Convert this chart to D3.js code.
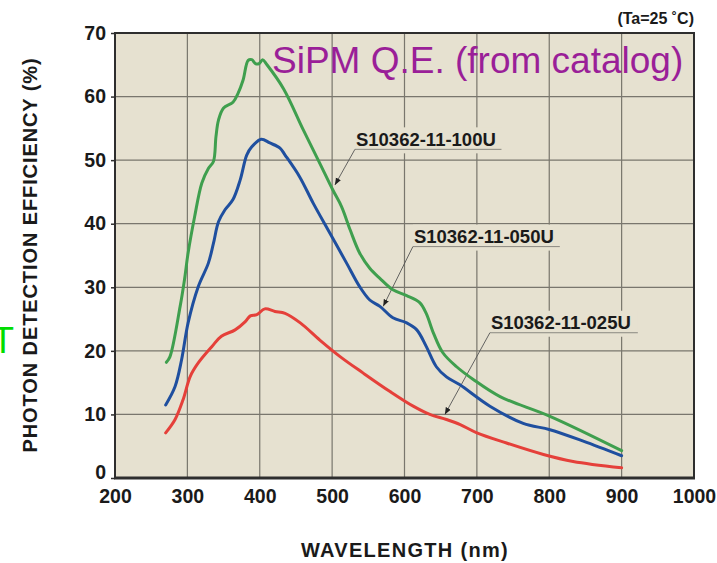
<!DOCTYPE html>
<html>
<head>
<meta charset="utf-8">
<script src="https://cdn.jsdelivr.net/npm/d3@7"></script>
<style>
  body { margin: 0; background: #fff; }
  svg text { font-family: "Liberation Sans", Arial, sans-serif; }
</style>
</head>
<body>
<svg id="chart"></svg>
<script>
// Wavelength (nm) / photon detection efficiency (%)
const wl100 = [271, 276, 290, 296, 301, 310, 320, 329, 336, 339.5, 343, 350, 363, 370, 377, 384, 389, 394, 399, 404, 410, 433, 460, 483, 501, 513, 525, 538, 552, 566, 584, 603, 621, 630, 640, 653, 672, 695, 732, 801, 900];
const pde100 = [18.2, 19.1, 27.0, 31.2, 35.4, 41.1, 46.4, 48.7, 49.8, 53.7, 56.3, 58.2, 59.1, 60.5, 62.6, 65.7, 65.8, 65.2, 65.2, 65.8, 65.0, 61.2, 54.8, 49.5, 45.3, 42.7, 39.0, 35.4, 33.0, 31.4, 29.6, 28.7, 27.6, 25.9, 22.8, 19.7, 17.5, 15.5, 12.8, 9.7, 4.3];

const wl050 = [270, 283, 292, 301, 315, 329, 336, 343, 352, 363, 373, 382, 389, 402, 414, 428, 435, 455, 474, 497, 520, 538, 552, 566, 584, 603, 617, 630, 644, 658, 676, 718, 764, 801, 847, 900];
const pde050 = [11.5, 14.4, 18.6, 24.4, 30.1, 33.8, 36.9, 40.3, 42.2, 43.8, 46.9, 50.8, 52.1, 53.3, 52.7, 51.9, 50.8, 47.4, 43.2, 38.5, 33.8, 30.1, 28.0, 27.0, 25.2, 24.4, 23.3, 20.7, 17.5, 15.9, 14.7, 11.3, 8.6, 7.6, 5.8, 3.5];

const wl025 = [270, 283, 294, 304, 315, 334, 347, 366, 380, 387, 396, 407, 421, 435, 456, 483, 511, 543, 580, 612, 635, 658, 677, 700, 741, 792, 833, 900];
const pde025 = [7.1, 9.2, 12.3, 16.0, 18.1, 20.7, 22.3, 23.3, 24.6, 25.5, 25.7, 26.6, 26.2, 25.9, 24.4, 21.7, 19.1, 16.5, 13.6, 11.3, 10.0, 9.2, 8.4, 7.1, 5.5, 3.7, 2.6, 1.6];

const seriesNames = ["S10362-11-100U", "S10362-11-050U", "S10362-11-025U"];
// label leader: underline start/end (nm), underline level (%), arrow target (nm, %)
const labelStart = [531.5, 611.6, 718];
const labelEnd = [734, 814.6, 922.4];
const labelLevel = [51.7, 36.4, 22.85];
const targetWl = [503.9, 570.6, 655.8];
const targetPde = [46.1, 27.0, 10.0];

const xTicks = [200, 300, 400, 500, 600, 700, 800, 900, 1000];
const yTicks = [0, 10, 20, 30, 40, 50, 60, 70];

const width = 717;
const height = 563;
const plot = { left: 115, right: 694, top: 33, bottom: 478 };
const colors = ["#3f9f4e", "#1f4f9f", "#e5403a"];
const plotBg = "#e6e1d0";
const ink = "#1a1a1a";

const svg = d3.select("#chart").attr("width", width).attr("height", height);

const x = d3.scaleLinear().domain([200, 1000]).range([plot.left, plot.right]);
const y = d3.scaleLinear().domain([0, 70]).range([plot.bottom, plot.top]);

// Plot background
svg.append("rect")
  .attr("x", plot.left).attr("y", plot.top)
  .attr("width", plot.right - plot.left).attr("height", plot.bottom - plot.top)
  .attr("fill", plotBg);

// Grid
const grid = svg.append("g").attr("stroke", "#66645c").attr("stroke-width", 1.2).attr("opacity", 0.85);
grid.selectAll(".vgrid")
  .data(xTicks.slice(1, -1))
  .enter().append("line")
  .attr("x1", (d) => x(d)).attr("x2", (d) => x(d))
  .attr("y1", plot.top).attr("y2", plot.bottom);
grid.selectAll(".hgrid")
  .data(yTicks.slice(1, -1))
  .enter().append("line")
  .attr("x1", plot.left).attr("x2", plot.right)
  .attr("y1", (d) => y(d)).attr("y2", (d) => y(d));

// Label backgrounds mask the grid behind the labels
const labelG = svg.append("g");
seriesNames.forEach((name, i) => {
  labelG.append("rect")
    .attr("x", x(labelStart[i]))
    .attr("y", y(labelLevel[i]) - 22)
    .attr("width", x(labelEnd[i]) - x(labelStart[i]))
    .attr("height", 26)
    .attr("fill", plotBg);
});

// Curves
const line = d3.line()
  .x((d) => x(d[0]))
  .y((d) => y(d[1]))
  .curve(d3.curveCatmullRom.alpha(0.5));

const series = [
  d3.zip(wl100, pde100),
  d3.zip(wl050, pde050),
  d3.zip(wl025, pde025)
];

svg.append("g")
  .selectAll("path")
  .data(series)
  .enter().append("path")
  .attr("d", line)
  .attr("fill", "none")
  .attr("stroke", (d, i) => colors[i])
  .attr("stroke-width", 3)
  .attr("stroke-linejoin", "round")
  .attr("stroke-linecap", "round");

// Annotations
svg.append("defs").append("marker")
  .attr("id", "arrow")
  .attr("viewBox", "0 0 10 10")
  .attr("refX", 10).attr("refY", 5)
  .attr("markerWidth", 7).attr("markerHeight", 7)
  .attr("markerUnits", "userSpaceOnUse")
  .attr("orient", "auto")
  .append("path")
  .attr("d", "M0,1 L10,5 L0,9 z")
  .attr("fill", "#222");

seriesNames.forEach((name, i) => {
  const ux = x(labelStart[i]);
  const uy = y(labelLevel[i]);
  labelG.append("line")
    .attr("x1", ux).attr("x2", x(labelEnd[i]))
    .attr("y1", uy).attr("y2", uy)
    .attr("stroke", "#8a8880").attr("stroke-width", 1);
  labelG.append("line")
    .attr("x1", ux).attr("y1", uy)
    .attr("x2", x(targetWl[i])).attr("y2", y(targetPde[i]))
    .attr("stroke", "#555").attr("stroke-width", 0.9)
    .attr("marker-end", "url(#arrow)");
  labelG.append("text")
    .attr("x", ux + 1).attr("y", uy - 3.5)
    .attr("font-size", 18.5).attr("font-weight", "bold")
    .attr("fill", ink)
    .text(name);
});

// Frame
svg.append("rect")
  .attr("x", plot.left).attr("y", plot.top)
  .attr("width", plot.right - plot.left).attr("height", plot.bottom - plot.top)
  .attr("fill", "none").attr("stroke", "#2e2e2e").attr("stroke-width", 2);
svg.append("line")
  .attr("x1", plot.left - 1).attr("x2", plot.right + 1)
  .attr("y1", plot.bottom).attr("y2", plot.bottom)
  .attr("stroke", "#2e2e2e").attr("stroke-width", 3);

// Axes
const xAxis = d3.axisBottom(x).tickValues(xTicks).tickFormat(d3.format("d")).tickSize(0).tickPadding(11);
svg.append("g")
  .attr("transform", `translate(0,${plot.bottom})`)
  .call(xAxis)
  .call((g) => g.select(".domain").remove())
  .call((g) => g.selectAll("text")
    .attr("font-size", 19.5).attr("font-weight", "bold")
    .attr("fill", ink)
    .style("font-family", "'Liberation Sans', Arial, sans-serif"));

const yAxis = d3.axisLeft(y).tickValues(yTicks).tickFormat(d3.format("d")).tickSize(4).tickPadding(5);
svg.append("g")
  .attr("transform", `translate(${plot.left},0)`)
  .call(yAxis)
  .call((g) => g.select(".domain").remove())
  .call((g) => g.selectAll("line").attr("stroke", "#2e2e2e").attr("stroke-width", 1.5))
  .call((g) => g.selectAll("text")
    .attr("font-size", 19.5).attr("font-weight", "bold")
    .attr("fill", ink)
    .attr("dy", (d) => (d === 0 ? "0.05em" : "0.32em"))
    .style("font-family", "'Liberation Sans', Arial, sans-serif"));

// Axis titles
svg.append("text")
  .attr("transform", `translate(37,255) rotate(-90)`)
  .attr("text-anchor", "middle")
  .attr("font-size", 20).attr("font-weight", "bold")
  .attr("letter-spacing", 0.9)
  .attr("fill", ink)
  .text("PHOTON DETECTION EFFICIENCY (%)");

svg.append("text")
  .attr("x", 405).attr("y", 557)
  .attr("text-anchor", "middle")
  .attr("font-size", 20).attr("font-weight", "bold")
  .attr("letter-spacing", 1.3)
  .attr("fill", ink)
  .text("WAVELENGTH (nm)");

svg.append("text")
  .attr("x", plot.right).attr("y", 24)
  .attr("text-anchor", "end")
  .attr("font-size", 16).attr("font-weight", "bold")
  .attr("fill", ink)
  .text("(Ta=25 ˚C)");

// Slide overlay texts
svg.append("text")
  .attr("x", 272).attr("y", 73)
  .attr("font-size", 37)
  .attr("fill", "#9a1f98")
  .text("SiPM Q.E. (from catalog)");

svg.append("text")
  .attr("x", -8).attr("y", 353)
  .attr("font-size", 36)
  .attr("fill", "#00dd00")
  .text("T");
</script>
</body>
</html>
